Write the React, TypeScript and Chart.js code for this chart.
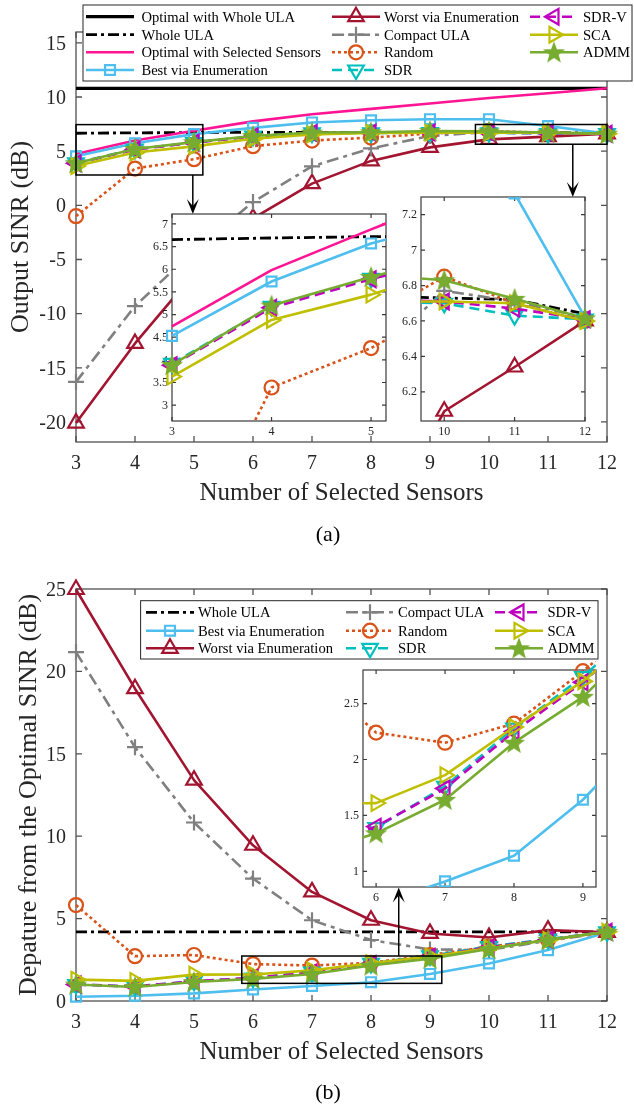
import React, { useEffect, useRef } from "react";
import { Chart, registerables } from "chart.js";

Chart.register(...registerables);

// ---------------- data ----------------
const sensors = [3, 4, 5, 6, 7, 8, 9, 10, 11, 12];

// (a) Output SINR (dB)
const sinrOptimalWholeULA = [10.8, 10.8, 10.8, 10.8, 10.8, 10.8, 10.8, 10.8, 10.8, 10.8];
const sinrWholeULA = [6.655, 6.69, 6.72, 6.735, 6.74, 6.74, 6.74, 6.73, 6.72, 6.64];
const sinrOptimalSelected = [4.74, 5.98, 6.88, 7.75, 8.4, 8.9, 9.4, 9.9, 10.35, 10.8];
const sinrBest = [4.53, 5.73, 6.57, 7.15, 7.65, 7.85, 7.95, 7.95, 7.32, 6.62];
const sinrWorst = [-20.1, -12.75, -6.3, -1.2, 2.0, 4.1, 5.35, 6.09, 6.34, 6.6];
const sinrCompactULA = [-16.3, -9.3, -4.2, 0.3, 3.6, 5.25, 6.4, 6.77, 6.71, 6.62];
const sinrRandom = [-1.0, 3.39, 4.26, 5.46, 5.98, 6.25, 6.62, 6.85, 6.7, 6.6];
const sinrSDR = [3.92, 5.18, 5.8, 6.38, 6.68, 6.68, 6.71, 6.7, 6.63, 6.61];
const sinrSDRV = [3.88, 5.15, 5.78, 6.35, 6.68, 6.7, 6.72, 6.71, 6.67, 6.61];
const sinrSCA = [3.63, 4.88, 5.44, 6.15, 6.55, 6.68, 6.71, 6.71, 6.7, 6.6];
const sinrADMM = [3.89, 5.2, 5.83, 6.4, 6.72, 6.75, 6.86, 6.83, 6.725, 6.615];

// (b) Departure from the optimal SINR (dB)
const depWholeULA = [4.2, 4.2, 4.2, 4.2, 4.2, 4.2, 4.2, 4.2, 4.2, 4.2];
const depBest = [0.26, 0.32, 0.46, 0.7, 0.91, 1.14, 1.64, 2.28, 3.09, 4.17];
const depWorst = [24.97, 18.95, 13.4, 9.45, 6.62, 4.9, 4.1, 3.85, 4.3, 4.17];
const depCompactULA = [21.17, 15.4, 10.83, 7.43, 4.9, 3.7, 3.13, 3.1, 3.65, 4.17];
const depRandom = [5.82, 2.72, 2.79, 2.24, 2.15, 2.32, 2.79, 3.3, 3.7, 4.2];
const depSDR = [1.0, 0.88, 1.2, 1.39, 1.76, 2.28, 2.74, 3.3, 3.75, 4.2];
const depSDRV = [1.0, 0.88, 1.2, 1.4, 1.74, 2.25, 2.69, 3.25, 3.72, 4.2];
const depSCA = [1.3, 1.22, 1.6, 1.61, 1.86, 2.29, 2.7, 3.2, 3.7, 4.2];
const depADMM = [1.0, 0.85, 1.15, 1.34, 1.64, 2.15, 2.56, 3.15, 3.72, 4.2];

// tick labels
const xTicksMain = [3, 4, 5, 6, 7, 8, 9, 10, 11, 12];
const yTicksSINR = [-20, -15, -10, -5, 0, 5, 10, 15];
const yTicksDeparture = [0, 5, 10, 15, 20, 25];
const xTicksInsetA1 = [3, 4, 5];
const yTicksInsetA1 = [3, 3.5, 4, 4.5, 5, 5.5, 6, 6.5, 7];
const xTicksInsetA2 = [10, 11, 12];
const yTicksInsetA2 = [6.2, 6.4, 6.6, 6.8, 7, 7.2];
const xTicksInsetB = [6, 7, 8, 9];
const yTicksInsetB = [1, 1.5, 2, 2.5];

// ---------------- styles ----------------
const FONT = '"Liberation Serif", "Times New Roman", Times, serif';
const fnt = (px: number) => `${px}px ${FONT}`;
const MARK_W = 2.2;

const S_OPT_WHOLE = { label: "Optimal with Whole ULA", color: "#000000", dash: [], width: 3.2, marker: null, rot: 0, r: 0 };
const S_WHOLE = { label: "Whole ULA", color: "#000000", dash: [11, 4, 3, 4], width: 2.8, marker: null, rot: 0, r: 0 };
const S_OPT_SEL = { label: "Optimal with Selected Sensors", color: "#ff1493", dash: [], width: 2.6, marker: null, rot: 0, r: 0 };
const S_BEST = { label: "Best via Enumeration", color: "#4dbeee", dash: [], width: 2.6, marker: "rect", rot: 0, r: 7 };
const S_WORST = { label: "Worst via Enumeration", color: "#a2142f", dash: [], width: 2.6, marker: "triangle", rot: 0, r: 9 };
const S_COMPACT = { label: "Compact ULA", color: "#808080", dash: [12, 5, 4, 5], width: 2.6, marker: "cross", rot: 0, r: 8 };
const S_RANDOM = { label: "Random", color: "#d95319", dash: [3, 3], width: 2.6, marker: "circle", rot: 0, r: 7 };
const S_SDR = { label: "SDR", color: "#00bfbf", dash: [10, 6], width: 2.6, marker: "triangle", rot: 180, r: 9 };
const S_SDRV = { label: "SDR-V", color: "#bf00bf", dash: [10, 6], width: 2.6, marker: "triangle", rot: -90, r: 9 };
const S_SCA = { label: "SCA", color: "#bfbf00", dash: [], width: 2.6, marker: "triangle", rot: 90, r: 9 };
const S_ADMM = { label: "ADMM", color: "#77ac30", dash: [], width: 2.6, marker: "star", rot: 0, r: 10 };

const TOP_SERIES: any[] = [
  [S_OPT_WHOLE, sinrOptimalWholeULA],
  [S_WHOLE, sinrWholeULA],
  [S_OPT_SEL, sinrOptimalSelected],
  [S_BEST, sinrBest],
  [S_WORST, sinrWorst],
  [S_COMPACT, sinrCompactULA],
  [S_RANDOM, sinrRandom],
  [S_SDR, sinrSDR],
  [S_SDRV, sinrSDRV],
  [S_SCA, sinrSCA],
  [S_ADMM, sinrADMM],
];
const BOT_SERIES: any[] = [
  [S_WHOLE, depWholeULA],
  [S_BEST, depBest],
  [S_WORST, depWorst],
  [S_COMPACT, depCompactULA],
  [S_RANDOM, depRandom],
  [S_SDR, depSDR],
  [S_SDRV, depSDRV],
  [S_SCA, depSCA],
  [S_ADMM, depADMM],
];

function makeStar(color: string, R: number) {
  const c = document.createElement("canvas");
  const s = Math.ceil(2 * R + 4);
  c.width = s;
  c.height = s;
  const g = c.getContext("2d")!;
  g.translate(s / 2, s / 2 + 0.8);
  g.beginPath();
  for (let i = 0; i < 10; i++) {
    const rr = i % 2 === 0 ? R : R * 0.42;
    const a = -Math.PI / 2 + (i * Math.PI) / 5;
    g.lineTo(rr * Math.cos(a), rr * Math.sin(a));
  }
  g.closePath();
  g.fillStyle = color;
  g.fill();
  g.lineWidth = 1.2;
  g.strokeStyle = color;
  g.stroke();
  return c;
}

function drawMark(ctx: CanvasRenderingContext2D, s: any, x: number, y: number, star: HTMLCanvasElement) {
  if (!s.marker) return;
  ctx.save();
  ctx.setLineDash([]);
  ctx.strokeStyle = s.color;
  ctx.lineWidth = MARK_W;
  const r = s.r;
  let a = (s.rot * Math.PI) / 180;
  ctx.beginPath();
  if (s.marker === "star") {
    ctx.drawImage(star, x - star.width / 2, y - star.height / 2);
    ctx.restore();
    return;
  } else if (s.marker === "rect") {
    const h = r * Math.SQRT1_2;
    ctx.rect(x - h, y - h, 2 * h, 2 * h);
  } else if (s.marker === "triangle") {
    ctx.moveTo(x + Math.sin(a) * r, y - Math.cos(a) * r);
    a += (2 * Math.PI) / 3;
    ctx.lineTo(x + Math.sin(a) * r, y - Math.cos(a) * r);
    a += (2 * Math.PI) / 3;
    ctx.lineTo(x + Math.sin(a) * r, y - Math.cos(a) * r);
    ctx.closePath();
  } else if (s.marker === "circle") {
    ctx.arc(x, y, r, 0, Math.PI * 2);
  } else if (s.marker === "cross") {
    ctx.moveTo(x, y - r);
    ctx.lineTo(x, y + r);
    ctx.moveTo(x - r, y);
    ctx.lineTo(x + r, y);
  }
  ctx.stroke();
  ctx.restore();
}

function drawArrow(ctx: CanvasRenderingContext2D, x: number, y0: number, y1: number) {
  const dir = Math.sign(y1 - y0);
  const L = 15, W = 6, N = 8;
  ctx.beginPath();
  ctx.moveTo(x, y0);
  ctx.lineTo(x, y1 - dir * N);
  ctx.stroke();
  ctx.beginPath();
  ctx.moveTo(x, y1);
  ctx.lineTo(x - W, y1 - dir * L);
  ctx.lineTo(x, y1 - dir * N);
  ctx.lineTo(x + W, y1 - dir * L);
  ctx.closePath();
  ctx.fill();
}

function decoPlugin(cfg: any, star: HTMLCanvasElement) {
  return {
    id: "deco",
    beforeDatasetsDraw(chart: any) {
      const { ctx, chartArea: a, scales } = chart;
      const xs = scales.x, ys = scales.y;
      const ox = cfg.canvas.left, oy = cfg.canvas.top;
      ctx.save();
      ctx.setLineDash([]);
      if (cfg.whiteBg) {
        ctx.fillStyle = "#ffffff";
        ctx.fillRect(a.left, a.top, a.right - a.left, a.bottom - a.top);
      }
      ctx.strokeStyle = cfg.axisColor;
      ctx.lineWidth = cfg.axisWidth;
      ctx.beginPath();
      for (const t of cfg.xTicks) {
        const p = xs.getPixelForValue(t);
        ctx.moveTo(p, a.bottom);
        ctx.lineTo(p, a.bottom - cfg.tickLen);
        ctx.moveTo(p, a.top);
        ctx.lineTo(p, a.top + cfg.tickLen);
      }
      for (const t of cfg.yTicks) {
        const p = ys.getPixelForValue(t);
        ctx.moveTo(a.left, p);
        ctx.lineTo(a.left + cfg.tickLen, p);
        ctx.moveTo(a.right, p);
        ctx.lineTo(a.right - cfg.tickLen, p);
      }
      ctx.stroke();
      ctx.strokeRect(a.left, a.top, a.right - a.left, a.bottom - a.top);

      ctx.fillStyle = "#262626";
      ctx.font = cfg.tickFont;
      ctx.textBaseline = "middle";
      ctx.textAlign = "center";
      for (const t of cfg.xTicks) ctx.fillText(String(t), xs.getPixelForValue(t), a.bottom + cfg.xLabelDy);
      ctx.textAlign = "right";
      for (const t of cfg.yTicks) ctx.fillText(String(t), a.left - cfg.yLabelGap, ys.getPixelForValue(t) + cfg.yLabelDy);

      if (cfg.xTitle) {
        ctx.fillStyle = "#262626";
        ctx.font = fnt(25);
        ctx.textAlign = "center";
        ctx.fillText(cfg.xTitle, (a.left + a.right) / 2, cfg.xTitleY - oy);
      }
      if (cfg.yTitle) {
        ctx.save();
        ctx.font = fnt(26);
        ctx.textAlign = "center";
        ctx.translate(cfg.yTitleX - ox, (a.top + a.bottom) / 2);
        ctx.rotate(-Math.PI / 2);
        ctx.fillText(cfg.yTitle, 0, 0);
        ctx.restore();
      }
      ctx.restore();
    },
    afterDatasetsDraw(chart: any) {
      const { ctx, scales } = chart;
      const xs = scales.x, ys = scales.y;
      const ox = cfg.canvas.left, oy = cfg.canvas.top;
      ctx.save();
      ctx.setLineDash([]);
      ctx.strokeStyle = "#000000";
      ctx.fillStyle = "#000000";
      ctx.lineWidth = 1.5;
      for (const rc of cfg.rects || []) {
        const x0 = xs.getPixelForValue(rc.x0), x1 = xs.getPixelForValue(rc.x1);
        const y0 = ys.getPixelForValue(rc.y0), y1 = ys.getPixelForValue(rc.y1);
        ctx.strokeRect(Math.min(x0, x1), Math.min(y0, y1), Math.abs(x1 - x0), Math.abs(y1 - y0));
      }
      for (const ar of cfg.arrows || []) {
        drawArrow(ctx, xs.getPixelForValue(ar.x), ys.getPixelForValue(ar.y), ar.tipY - oy);
      }
      const L = cfg.legend;
      if (L) {
        ctx.fillStyle = "#ffffff";
        ctx.fillRect(L.box[0] - ox, L.box[1] - oy, L.box[2] - L.box[0], L.box[3] - L.box[1]);
        ctx.strokeStyle = "#262626";
        ctx.lineWidth = 1;
        ctx.strokeRect(L.box[0] - ox, L.box[1] - oy, L.box[2] - L.box[0], L.box[3] - L.box[1]);
        ctx.font = fnt(14.6);
        ctx.textBaseline = "middle";
        ctx.textAlign = "left";
        for (const col of L.cols) {
          col.items.forEach((s: any, i: number) => {
            const y = L.rows[i] - oy;
            ctx.strokeStyle = s.color;
            ctx.lineWidth = s.width;
            ctx.setLineDash(s.dash);
            ctx.beginPath();
            ctx.moveTo(col.x0 - ox, y);
            ctx.lineTo(col.x1 - ox, y);
            ctx.stroke();
            ctx.setLineDash([]);
            drawMark(ctx, s, (col.x0 + col.x1) / 2 - ox, y, star);
            ctx.fillStyle = "#000000";
            ctx.fillText(s.label, col.tx - ox, y + 1);
          });
        }
      }
      if (cfg.caption) {
        ctx.fillStyle = "#000000";
        ctx.font = fnt(22);
        ctx.textAlign = "center";
        ctx.textBaseline = "middle";
        ctx.fillText(cfg.caption.text, cfg.caption.x - ox, cfg.caption.y - oy);
      }
      ctx.restore();
    },
  };
}

function buildConfig(p: any, star: HTMLCanvasElement) {
  const n = p.series.length;
  const datasets = p.series.map(([s, vals]: any, i: number) => ({
    label: s.label,
    data: sensors.map((x, k) => ({ x, y: vals[k] })),
    borderColor: s.color,
    backgroundColor: s.color,
    borderWidth: s.width,
    borderDash: s.dash,
    borderJoinStyle: "round",
    pointStyle: s.marker === "star" ? star : s.marker || "circle",
    pointRadius: s.marker ? s.r : 0,
    pointRotation: s.rot,
    pointBorderColor: s.color,
    pointBackgroundColor: "rgba(0,0,0,0)",
    pointBorderWidth: MARK_W,
    tension: 0,
    fill: false,
    order: n - i,
    clip: p.clip,
  }));
  const c = p.canvas, a = p.area;
  return {
    type: "line",
    data: { datasets },
    options: {
      responsive: false,
      animation: false,
      events: [],
      layout: {
        autoPadding: false,
        padding: { left: a.l - c.left, top: a.t - c.top, right: c.left + c.w - a.r, bottom: c.top + c.h - a.b },
      },
      scales: {
        x: { type: "linear", min: p.x[0], max: p.x[1], display: false },
        y: { type: "linear", min: p.y[0], max: p.y[1], display: false },
      },
      plugins: { legend: { display: false }, tooltip: { enabled: false }, title: { display: false } },
    },
    plugins: [decoPlugin(p, star)],
  };
}

const mainDeco = { axisColor: "#505050", axisWidth: 1.3, tickLen: 6, tickFont: fnt(20), xLabelDy: 22, yLabelGap: 10, yLabelDy: 1.5 };
const insetDeco = { axisColor: "#3a3a3a", axisWidth: 1.2, tickLen: 4, tickFont: fnt(12), xLabelDy: 11, yLabelGap: 4, yLabelDy: 0.5, whiteBg: true };

const PANELS: any[] = [
  {
    ...mainDeco,
    canvas: { left: 0, top: 0, w: 634, h: 552 },
    area: { l: 76, t: 32, r: 607, b: 442 },
    x: [3, 12], y: [-21.85, 16],
    series: TOP_SERIES, clip: false,
    xTicks: xTicksMain, yTicks: yTicksSINR,
    xTitle: "Number of Selected Sensors", xTitleY: 493,
    yTitle: "Output SINR (dB)", yTitleX: 21,
    rects: [
      { x0: 3, x1: 5.15, y0: 2.8, y1: 7.45 },
      { x0: 9.77, x1: 12, y0: 5.64, y1: 7.46 },
    ],
    arrows: [
      { x: 4.98, y: 2.8, tipY: 214 },
      { x: 11.42, y: 5.64, tipY: 197 },
    ],
    legend: {
      box: [83, 5, 632, 81],
      rows: [16.7, 34.7, 52.3, 70],
      cols: [
        { x0: 86, x1: 134, tx: 141.4, items: [S_OPT_WHOLE, S_WHOLE, S_OPT_SEL, S_BEST] },
        { x0: 332, x1: 380, tx: 384, items: [S_WORST, S_COMPACT, S_RANDOM, S_SDR] },
        { x0: 530, x1: 578, tx: 583, items: [S_SDRV, S_SCA, S_ADMM] },
      ],
    },
    caption: { text: "(a)", x: 328, y: 535 },
  },
  {
    ...insetDeco,
    canvas: { left: 140, top: 204, w: 262, h: 242 },
    area: { l: 172, t: 214, r: 386, b: 421 },
    x: [3, 5.15], y: [2.65, 7.22],
    series: TOP_SERIES, clip: { left: 15, top: 0, right: 0, bottom: 0 },
    xTicks: xTicksInsetA1, yTicks: yTicksInsetA1,
  },
  {
    ...insetDeco,
    canvas: { left: 392, top: 187, w: 213, h: 259 },
    area: { l: 421, t: 197, r: 585, b: 421 },
    x: [9.67, 12], y: [6.035, 7.3],
    series: TOP_SERIES, clip: { left: 0, top: 0, right: 15, bottom: 0 },
    xTicks: xTicksInsetA2, yTicks: yTicksInsetA2,
  },
  {
    ...mainDeco,
    canvas: { left: 0, top: 552, w: 634, h: 559 },
    area: { l: 76, t: 589, r: 607, b: 1001 },
    x: [3, 12], y: [0, 25],
    series: BOT_SERIES, clip: false,
    xTicks: xTicksMain, yTicks: yTicksDeparture,
    xTitle: "Number of Selected Sensors", xTitleY: 1052,
    yTitle: "Depature from the Optimal SINR (dB)", yTitleX: 29,
    rects: [{ x0: 5.81, x1: 9.2, y0: 1.07, y1: 2.73 }],
    arrows: [{ x: 8.47, y: 2.73, tipY: 887.5 }],
    legend: {
      box: [140.6, 600.7, 598, 659],
      rows: [612.3, 630.7, 648.3],
      cols: [
        { x0: 146, x1: 194, tx: 198, items: [S_WHOLE, S_BEST, S_WORST] },
        { x0: 346, x1: 394, tx: 398, items: [S_COMPACT, S_RANDOM, S_SDR] },
        { x0: 495, x1: 543, tx: 547.5, items: [S_SDRV, S_SCA, S_ADMM] },
      ],
    },
    caption: { text: "(b)", x: 328, y: 1093 },
  },
  {
    ...insetDeco,
    canvas: { left: 330, top: 660, w: 286, h: 252 },
    area: { l: 363, t: 670, r: 596, b: 887 },
    x: [5.81, 9.19], y: [0.86, 2.8],
    series: BOT_SERIES, clip: { left: 0, top: 9, right: 0, bottom: 0 },
    xTicks: xTicksInsetB, yTicks: yTicksInsetB,
  },
];

export default function App() {
  const refs = [useRef<HTMLCanvasElement>(null), useRef<HTMLCanvasElement>(null), useRef<HTMLCanvasElement>(null), useRef<HTMLCanvasElement>(null), useRef<HTMLCanvasElement>(null)];
  useEffect(() => {
    document.body.style.margin = "0";
    const star = makeStar(S_ADMM.color, S_ADMM.r);
    const charts = PANELS.map((p, i) => new Chart(refs[i].current as any, buildConfig(p, star) as any));
    return () => charts.forEach((c) => c.destroy());
  }, []);
  return (
    <div style={{ position: "relative", width: 634, height: 1111, background: "#ffffff", overflow: "hidden" }}>
      {PANELS.map((p, i) => (
        <canvas
          key={i}
          ref={refs[i]}
          width={p.canvas.w}
          height={p.canvas.h}
          style={{ position: "absolute", left: p.canvas.left, top: p.canvas.top, width: p.canvas.w, height: p.canvas.h }}
        />
      ))}
    </div>
  );
}
